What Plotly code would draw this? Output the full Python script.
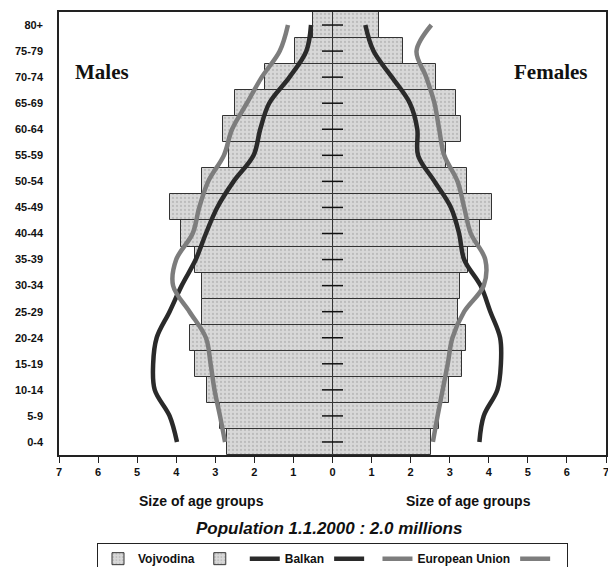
import plotly.graph_objects as go

age_groups = ["0-4", "5-9", "10-14", "15-19", "20-24", "25-29", "30-34", "35-39",
              "40-44", "45-49", "50-54", "55-59", "60-64", "65-69", "70-74", "75-79", "80+"]

vojvodina_males = [2.71, 2.88, 3.2, 3.52, 3.65, 3.35, 3.33, 3.53, 3.87, 4.15, 3.34, 2.64, 2.8, 2.5, 1.73, 0.95, 0.5]
vojvodina_females = [2.53, 2.73, 2.99, 3.32, 3.41, 3.2, 3.26, 3.47, 3.77, 4.07, 3.45, 2.9, 3.3, 3.16, 2.65, 1.81, 1.2]

balkan_males = [3.98, 4.17, 4.55, 4.59, 4.5, 4.17, 3.86, 3.5, 3.24, 2.95, 2.53, 2.02, 1.85, 1.62, 1.1, 0.67, 0.55]
balkan_females = [3.76, 3.87, 4.22, 4.31, 4.29, 4.04, 3.79, 3.37, 3.24, 3.03, 2.61, 2.19, 2.17, 1.98, 1.52, 1.05, 0.84]

eu_males = [2.75, 2.88, 3.02, 3.12, 3.24, 3.66, 4.08, 4.0, 3.58, 3.41, 3.18, 2.78, 2.57, 2.19, 1.81, 1.35, 1.14]
eu_females = [2.57, 2.69, 2.82, 2.95, 3.07, 3.37, 3.87, 3.91, 3.54, 3.37, 3.2, 2.86, 2.73, 2.61, 2.4, 2.15, 2.53]

x_ticks = [-7, -6, -5, -4, -3, -2, -1, 0, 1, 2, 3, 4, 5, 6, 7]

FONT = "Liberation Sans, Arial, sans-serif"
SERIF = "Liberation Serif, Times New Roman, serif"
BALKAN_COLOR = "#2a2a2a"
EU_COLOR = "#7d7d7d"

bar_style = dict(
    color="#d2d2d2",
    line=dict(color="#333333", width=1),
    pattern=dict(shape=".", fgcolor="#a0a0a0", bgcolor="#d8d8d8", size=4, solidity=0.25),
)

fig = go.Figure()

# female traces carry an empty legend name so the legend shows a symbol on both sides
fig.add_trace(go.Bar(
    y=age_groups, x=[-v for v in vojvodina_males], orientation="h",
    name="Vojvodina", marker=bar_style,
))
fig.add_trace(go.Bar(
    y=age_groups, x=vojvodina_females, orientation="h",
    name="", marker=bar_style,
))

fig.add_trace(go.Scatter(
    y=age_groups, x=[-v for v in balkan_males], mode="lines",
    line=dict(color=BALKAN_COLOR, width=4.5, shape="spline"),
    name="Balkan",
))
fig.add_trace(go.Scatter(
    y=age_groups, x=balkan_females, mode="lines",
    line=dict(color=BALKAN_COLOR, width=4.5, shape="spline"),
    name=" ",
))
fig.add_trace(go.Scatter(
    y=age_groups, x=[-v for v in eu_males], mode="lines",
    line=dict(color=EU_COLOR, width=4.5, shape="spline"),
    name="European Union",
))
fig.add_trace(go.Scatter(
    y=age_groups, x=eu_females, mode="lines",
    line=dict(color=EU_COLOR, width=4.5, shape="spline"),
    name="  ",
))

# small cross ticks on the central axis
fig.add_trace(go.Scatter(
    y=age_groups, x=[0] * len(age_groups), mode="markers",
    marker=dict(symbol="line-ew", size=15, line=dict(color="#111111", width=1.5)),
    showlegend=False, hoverinfo="skip",
))

# the page body has an 8px margin, so the figure is smaller than the window
fig.update_layout(
    width=608,
    height=559,
    margin=dict(l=51, r=10, t=4, b=112, autoexpand=False),
    paper_bgcolor="white",
    plot_bgcolor="white",
    barmode="overlay",
    bargap=0,
    font=dict(family=FONT, color="#111111"),
    showlegend=True,
    legend=dict(
        orientation="h",
        x=0.5, xanchor="center",
        y=-0.199, yanchor="top",
        bordercolor="#222222", borderwidth=1,
        font=dict(family=FONT, size=12, weight="bold"),
        itemwidth=30,
        tracegroupgap=0,
    ),
)

fig.update_xaxes(
    range=[-7, 7],
    tickvals=x_ticks,
    ticktext=[str(abs(v)) for v in x_ticks],
    ticks="outside", ticklen=6, tickwidth=1.2, tickcolor="#222222",
    tickfont=dict(family=FONT, size=11, weight="bold"),
    ticklabeloverflow="allow",
    showgrid=False,
    zeroline=True, zerolinecolor="#111111", zerolinewidth=2,
    showline=True, linecolor="#222222", linewidth=1.5, mirror=True,
    automargin=False,
    fixedrange=True,
)

fig.update_yaxes(
    categoryorder="array", categoryarray=age_groups,
    range=[-0.5, len(age_groups) - 0.5],
    ticks="", ticklabelstandoff=12,
    tickfont=dict(family=FONT, size=11, weight="bold"),
    showgrid=False,
    showline=True, linecolor="#222222", linewidth=1.5, mirror=True,
    automargin=False,
    fixedrange=True,
)

fig.add_annotation(text="Males", x=-5.9, y=0.865, xref="x", yref="paper",
                   xanchor="center", yanchor="middle", showarrow=False,
                   font=dict(family=SERIF, size=21, weight="bold"))
fig.add_annotation(text="Females", x=5.58, y=0.865, xref="x", yref="paper",
                   xanchor="center", yanchor="middle", showarrow=False,
                   font=dict(family=SERIF, size=21, weight="bold"))

fig.add_annotation(text="Size of age groups", x=-3.35, y=-0.104, xref="x", yref="paper",
                   xanchor="center", yanchor="middle", showarrow=False,
                   font=dict(family=FONT, size=14, weight="bold"))
fig.add_annotation(text="Size of age groups", x=3.47, y=-0.104, xref="x", yref="paper",
                   xanchor="center", yanchor="middle", showarrow=False,
                   font=dict(family=FONT, size=14, weight="bold"))
fig.add_annotation(text="Population 1.1.2000 : 2.0 millions", x=-0.1, y=-0.165,
                   xref="x", yref="paper", xanchor="center", yanchor="middle",
                   showarrow=False,
                   font=dict(family=FONT, size=17, weight="bold", style="italic"))

fig.write_html("out.html")
